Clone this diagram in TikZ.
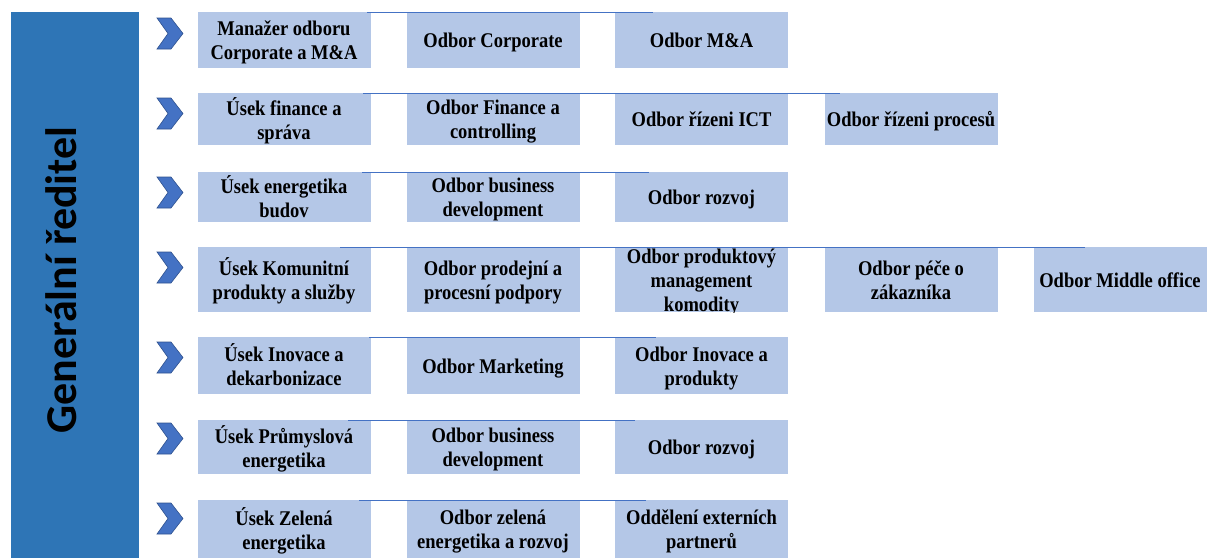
\documentclass[tikz,border=0pt]{standalone}
\usepackage{fontspec}
\setmainfont{Liberation Serif}
\newfontfamily\titlefont{Carlito}
\usepackage{graphicx}
\definecolor{barc}{HTML}{2E75B6}
\definecolor{boxc}{HTML}{B4C7E7}
\definecolor{chevc}{HTML}{4472C4}
\definecolor{chevd}{HTML}{2F528F}
\definecolor{linkc}{HTML}{4472C4}
\newcommand\bx[1]{\raisebox{-3pt}[\height][\depth]{\scalebox{1}[1.13]{\fontsize{18.5}{21.3}\selectfont\bfseries\begin{tabular}{@{}c@{}}#1\end{tabular}}}}
\tikzset{
  box/.style={fill=boxc, minimum width=173pt, inner sep=0pt, text=black},
  chev/.style={fill=chevc, draw=chevd, line width=0.6pt, line join=miter},
  link/.style={draw=linkc, line width=1pt},
}
\newcommand\chevr[1]{\draw[chev, shift={(0,#1)}] (157,0) -- (171,0) -- (183,15.5) -- (171,31) -- (157,31) -- (168,15.5) -- cycle;}
\begin{document}
\begin{tikzpicture}[x=1pt,y=-1pt]
\useasboundingbox (0,0) rectangle (1209,558);
% left bar
\node[fill=barc, minimum width=128pt, minimum height=546pt, inner sep=0pt] (gr) at (75,285) {};
\node[rotate=90, anchor=base, inner sep=0pt] (grt) at (76,280) {\titlefont\bfseries\fontsize{44}{52}\selectfont Generální ředitel};
% chevrons
\chevr{18}\chevr{98}\chevr{177}\chevr{252}\chevr{342}\chevr{423}\chevr{503}
% row 1
\node[box, minimum height=56pt] (r1c1) at (284,40) {\bx{Manažer odboru\\Corporate a M\&A}};
\node[box, minimum height=56pt] (r1c2) at (493,40) {\bx{Odbor Corporate}};
\node[box, minimum height=56pt] (r1c3) at (701.5,40) {\bx{Odbor M\&A}};
% row 2
\node[box, minimum height=52pt] (r2c1) at (284,119) {\bx{Úsek finance a\\správa}};
\node[box, minimum height=52pt] (r2c2) at (493,119) {\bx{Odbor Finance a\\controlling}};
\node[box, minimum height=52pt] (r2c3) at (701.5,119) {\bx{Odbor řízeni ICT}};
\node[box, minimum height=52pt] (r2c4) at (911,119) {\bx{Odbor řízeni procesů}};
% row 3
\node[box, minimum height=50pt] (r3c1) at (284,197) {\bx{Úsek energetika\\budov}};
\node[box, minimum height=50pt] (r3c2) at (493,197) {\bx{Odbor business\\development}};
\node[box, minimum height=50pt] (r3c3) at (701.5,197) {\bx{Odbor rozvoj}};
% row 4
\node[box, minimum height=65pt] (r4c1) at (284,279.5) {\bx{Úsek Komunitní\\produkty a služby}};
\node[box, minimum height=65pt] (r4c2) at (493,279.5) {\bx{Odbor prodejní a\\procesní podpory}};
\node[box, minimum height=65pt] (r4c3) at (701.5,279.5) {};
\begin{scope}
\clip (r4c3.south west) rectangle (r4c3.north east);
\node[inner sep=0pt] (r4c3t) at (701.5,280) {\bx{Odbor produktový\\management\\komodity}};
\end{scope}
\node[box, minimum height=65pt] (r4c4) at (911,279.5) {\bx{Odbor péče o\\zákazníka}};
\node[box, minimum height=65pt] (r4c5) at (1120,279.5) {\bx{Odbor Middle office}};
% row 5
\node[box, minimum height=57pt] (r5c1) at (284,365.5) {\bx{Úsek Inovace a\\dekarbonizace}};
\node[box, minimum height=57pt] (r5c2) at (493,365.5) {\bx{Odbor Marketing}};
\node[box, minimum height=57pt] (r5c3) at (701.5,365.5) {\bx{Odbor Inovace a\\produkty}};
% row 6
\node[box, minimum height=54pt] (r6c1) at (284,447) {\bx{Úsek Průmyslová\\energetika}};
\node[box, minimum height=54pt] (r6c2) at (493,447) {\bx{Odbor business\\development}};
\node[box, minimum height=54pt] (r6c3) at (701.5,447) {\bx{Odbor rozvoj}};
% row 7
\node[box, minimum height=58pt] (r7c1) at (284,529) {\bx{Úsek Zelená\\energetika}};
\node[box, minimum height=58pt] (r7c2) at (493,529) {\bx{Odbor zelená\\energetika a rozvoj}};
\node[box, minimum height=58pt] (r7c3) at (701.5,529) {\bx{Oddělení externích\\partnerů}};
% thin top lines
\draw[link] (367,12.5) -- (653,12.5);
\draw[link] (363,93.5) -- (840,93.5);
\draw[link] (362,172.5) -- (649,172.5);
\draw[link] (340,247.5) -- (1085,247.5);
\draw[link] (369,337.5) -- (656,337.5);
\draw[link] (348,420.5) -- (635,420.5);
\draw[link] (359,500.5) -- (646,500.5);
\end{tikzpicture}
\end{document}
